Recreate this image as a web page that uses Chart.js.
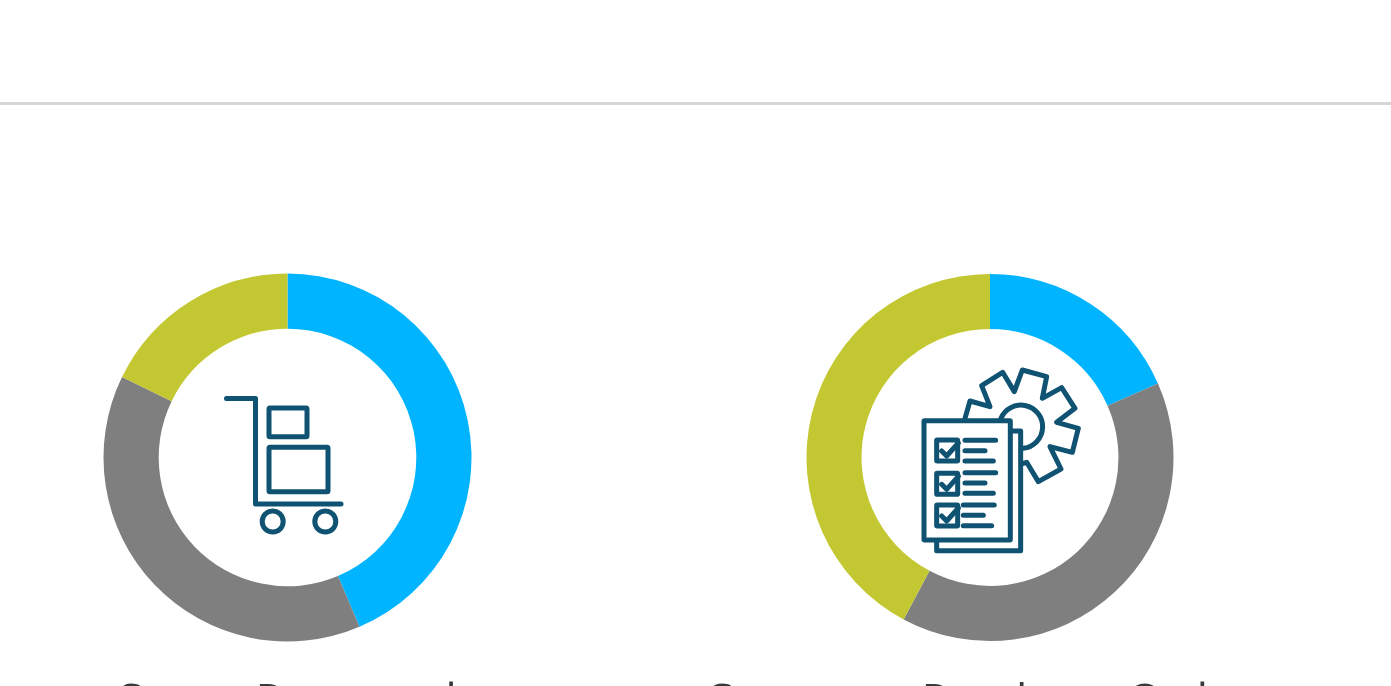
<!DOCTYPE html>
<html>
<head>
<meta charset="utf-8">
<title>Rings</title>
<script src="https://cdn.jsdelivr.net/npm/chart.js@4"></script>
<style>
  html, body { margin: 0; height: 100%; overflow: hidden; background: #fff; }
  #page { position: relative; width: 1391px; height: 686px; overflow: hidden; }
  .rule { position: absolute; left: 0; top: 102px; width: 100%; height: 3px; background: #d6d6d6; }
  .ring { position: absolute; top: 273px; height: 369px; }
  .icon { position: absolute; left: 0; top: 0; }
  .icon * { fill: none; stroke: #0f5272; stroke-linecap: round; stroke-linejoin: round; }
  .name { position: absolute; top: 670px; font: 45px/60px "Open Sans", sans-serif; color: #3a3a3a; white-space: nowrap; }
</style>
</head>
<body>
<div id="page">
  <div class="rule"></div>
  <div class="ring" style="left:103px;width:369px"><canvas id="ring-a"></canvas></div>
  <div class="ring" style="left:806px;width:368px"><canvas id="ring-b"></canvas></div>

  <!-- 카트 아이콘 -->
  <svg class="icon" width="1391" height="686">
    <g stroke-width="5">
      <path d="M226.5 398.5H255.5V504H341"/>
      <rect x="269" y="408" width="38" height="28.7" rx="1"/>
      <rect x="269" y="447.3" width="59" height="44.4" rx="1"/>
      <circle cx="272.7" cy="521.5" r="10.5"/>
      <circle cx="325.3" cy="521.5" r="10.5"/>
    </g>
  </svg>

  <!-- 체크리스트 + 톱니 아이콘: 좌표는 3배 크기 기준 -->
  <svg class="icon" width="1391" height="686">
    <g transform="translate(905 355) scale(0.3333)" stroke-width="15">
      <path d="M180 190L195 138L255 155L230 92L293 52L328 110L352 45L425 65L412 130L470 98L510 160L455 202L520 220L502 292L435 275L468 342L400 380L365 322L355 325"/>
      <path d="M288 190A65 65 0 1 1 355 280"/>
      <path d="M323 228H347V587H95V558"/>
      <rect x="57" y="197" width="259" height="358" rx="2"/>
      <rect x="95" y="255" width="63" height="63" rx="2"/>
      <rect x="95" y="355" width="63" height="63" rx="2"/>
      <rect x="95" y="450" width="63" height="63" rx="2"/>
      <path d="M110 288L125 303L160 264M110 388L125 403L160 364M110 483L125 498L160 459"/>
      <path d="M180 256H272M180 287H240M180 318H265"/>
      <path d="M180 353H272M180 384H240M180 415H265"/>
      <path d="M175 450H268M175 481H235M175 512H260"/>
    </g>
  </svg>

  <div class="name" id="name-a" style="left:118px"></div>
  <div class="name" id="name-b" style="left:704px"></div>
</div>

<script>
  const SEGMENTS = ['Blue', 'Gray', 'Olive'];
  const RING_A_VALUES = [43.6, 38.6, 17.8];
  const RING_B_VALUES = [18.4, 39.4, 42.2];
  const RING_A_NAME = 'Smart Proposed';
  const RING_B_NAME = 'Customer Purchase Orders';
  const COLORS = ['#00b4ff', '#7f7f7f', '#c3c832'];

  Chart.defaults.animation = false;

  function ring(id, values) {
    return new Chart(document.getElementById(id), {
      type: 'doughnut',
      data: {
        labels: SEGMENTS,
        datasets: [{ data: values, backgroundColor: COLORS, borderWidth: 0 }],
      },
      options: {
        responsive: true,
        maintainAspectRatio: false,
        cutout: '70%',
        layout: { padding: 0.5 },
        plugins: { legend: { display: false }, tooltip: { enabled: false } },
      },
    });
  }

  ring('ring-a', RING_A_VALUES);
  ring('ring-b', RING_B_VALUES);
  document.getElementById('name-a').textContent = RING_A_NAME;
  document.getElementById('name-b').textContent = RING_B_NAME;
</script>
</body>
</html>
